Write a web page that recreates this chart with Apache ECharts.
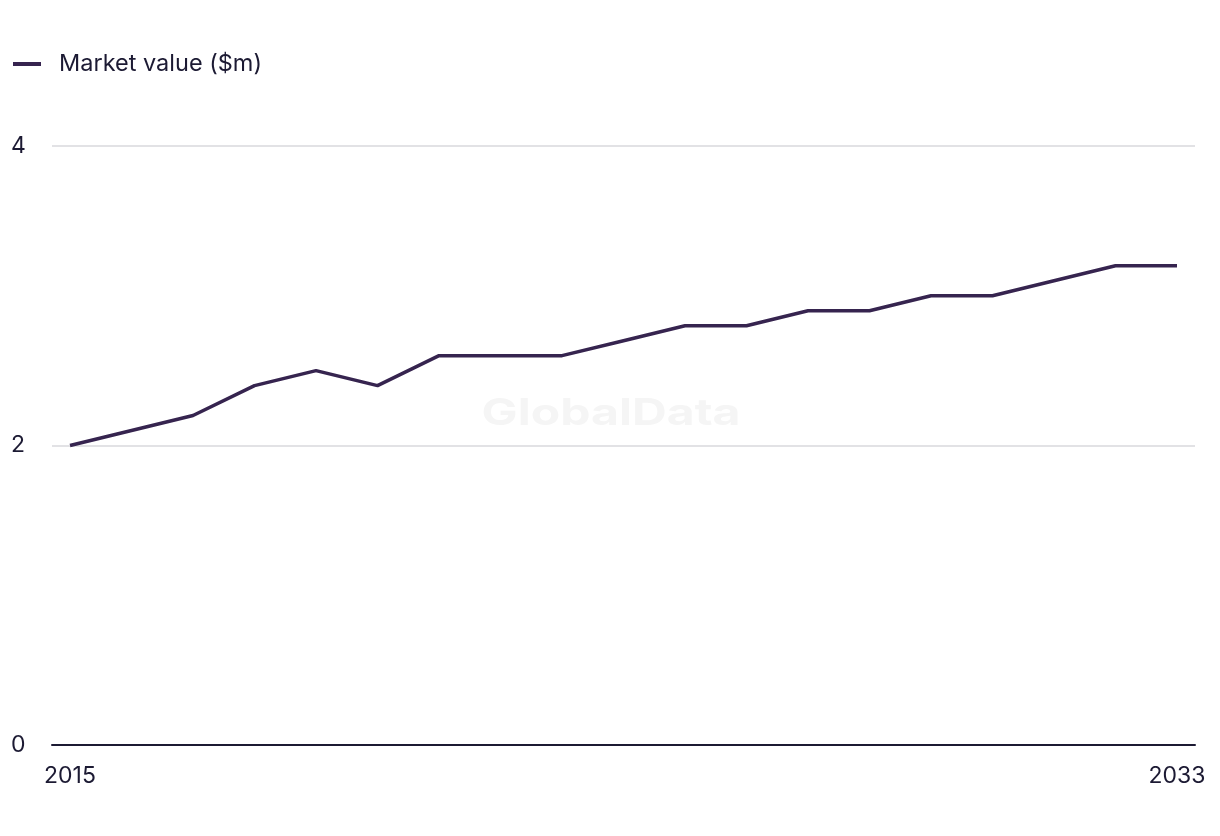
<!DOCTYPE html>
<html>
<head>
<meta charset="utf-8">
<script src="https://cdn.jsdelivr.net/npm/echarts@6/dist/echarts.min.js"></script>
<style>
html,body{margin:0;padding:0;background:#fff;}
#chart{width:1220px;height:836px;}
</style>
</head>
<body>
<div id="chart"></div>
<script>
var years = [2015,2016,2017,2018,2019,2020,2021,2022,2023,2024,2025,2026,2027,2028,2029,2030,2031,2032,2033];
var marketValue = [2.0,2.1,2.2,2.4,2.5,2.4,2.6,2.6,2.6,2.7,2.8,2.8,2.9,2.9,3.0,3.0,3.1,3.2,3.2];
var xTickLabels = [2015, 2033];
var seriesName = 'Market value ($m)';

var chart = echarts.init(document.getElementById('chart'));
var font = 'Inter, "Liberation Sans", sans-serif';
var pad = 0.293;
chart.setOption({
  animation: false,
  textStyle: {fontFamily: font},
  graphic: [{
    type: 'text',
    x: 611,
    y: 414,
    scaleX: 1.3,
    z: 0,
    style: {x: 0, y: 0, text: 'GlobalData', fill: '#f5f5f5', font: 'bold 37px ' + font, align: 'center', verticalAlign: 'middle'}
  }],
  legend: {
    left: 8,
    top: 47,
    icon: 'rect',
    itemWidth: 28,
    itemHeight: 4,
    itemGap: 20,
    textStyle: {fontSize: 23.5, color: '#1c1a33', fontFamily: font, padding: [0,0,0,13]},
    data: [seriesName]
  },
  grid: {left: 52, right: 25, top: 146, bottom: 91, containLabel: false},
  xAxis: {
    type: 'value',
    min: years[0] - pad,
    max: years[years.length-1] + pad,
    axisLine: {show: true, lineStyle: {color: '#1c1a33', width: 2}},
    axisTick: {show: false},
    splitLine: {show: false},
    axisLabel: {
      customValues: xTickLabels,
      margin: 20,
      fontSize: 23,
      color: '#1c1a33',
      fontFamily: font,
      formatter: function(v){ return String(v); }
    }
  },
  yAxis: {
    type: 'value',
    min: 0,
    max: 4,
    interval: 2,
    axisLine: {show: false},
    axisTick: {show: false},
    splitLine: {show: true, lineStyle: {color: '#d9d9dc', width: 1.5}},
    axisLabel: {
      fontSize: 23,
      color: '#1c1a33',
      fontFamily: font,
      align: 'left',
      margin: 41
    }
  },
  series: [{
    name: seriesName,
    type: 'line',
    data: years.map(function(y,i){ return [y, marketValue[i]]; }),
    showSymbol: false,
    symbol: 'none',
    lineStyle: {color: '#36244f', width: 3.5},
    itemStyle: {color: '#36244f'},
    z: 3
  }]
});
</script>
</body>
</html>
